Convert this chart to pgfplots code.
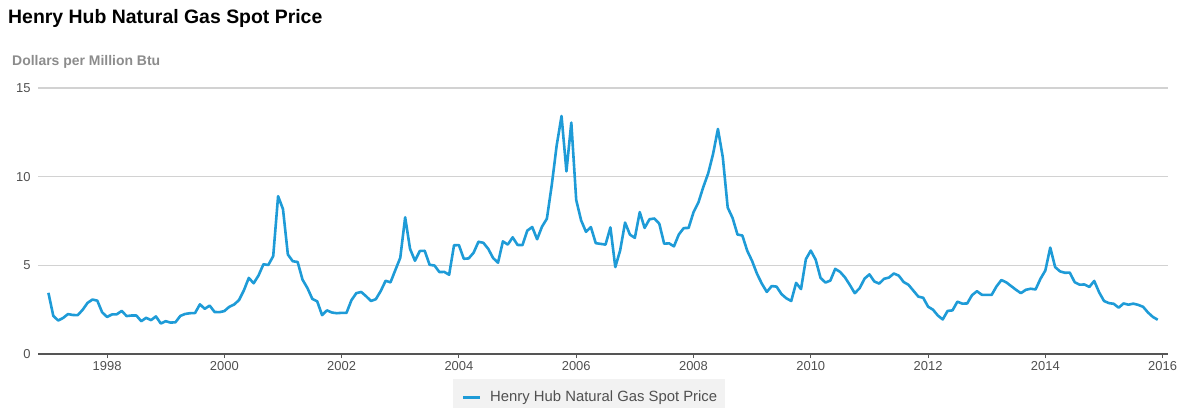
\documentclass[border=0pt]{standalone}
\usepackage{pgfplots}
\pgfplotsset{compat=1.18}
\usepackage{fontspec}
\setmainfont{Liberation Sans}

\definecolor{gasblue}{RGB}{30,155,215}
\definecolor{gridgray}{RGB}{210,210,210}
\definecolor{axisgray}{RGB}{85,85,85}
\definecolor{labelgray}{RGB}{80,80,80}
\definecolor{unitgray}{RGB}{140,140,140}
\definecolor{legendfill}{RGB}{242,242,242}

\begin{document}
\begin{tikzpicture}[x=1bp,y=1bp]
\useasboundingbox (0,0) rectangle (1181,407);
\node[anchor=base west, inner sep=0pt, font=\fontsize{19.5}{22}\selectfont\bfseries, text=black]
  at (8,384) {Henry Hub Natural Gas Spot Price};
\node[anchor=base west, inner sep=0pt, font=\fontsize{14}{16}\selectfont\bfseries, text=unitgray]
  at (12,342) {Dollars per Million Btu};
\begin{axis}[
  at={(38bp,53bp)}, anchor=south west,
  scale only axis, width=1130bp, height=266bp,
  xmin=-2.13, xmax=229.1, ymin=0, ymax=15,
  axis x line*=bottom, axis y line*=left,
  x axis line style={axisgray, line width=2bp},
  y axis line style={draw=none},
  xtick={12,36,...,228},
  xticklabels={1998,2000,2002,2004,2006,2008,2010,2012,2014,2016},
  ytick={0,5,10,15},
  tick align=outside, major tick length=4bp,
  xtick style={axisgray, line width=1bp},
  ytick style={draw=none},
  ymajorgrids, grid style={gridgray, line width=1.3bp},
  /pgf/number format/assume math mode=true,
  ticklabel style={font=\fontsize{13}{15}\selectfont, text=labelgray},
  yticklabel style={anchor=east},
  legend style={at={(axis description cs:0.3673,-0.094)}, anchor=north west,
    fill=legendfill, draw=none, text=labelgray,
    font=\fontsize{14.9}{17}\selectfont, inner xsep=6bp, inner ysep=10bp},
  legend cell align=left,
  legend image code/.code={%
    \path[draw=none] (0bp,0bp) -- (29bp,0bp);
    \draw[#1] (4bp,0bp) -- (21bp,0bp);},
]
\addplot[gasblue, line width=2.6bp, line join=round] coordinates {
  % 1997
  (0,3.45) (1,2.15) (2,1.89) (3,2.03) (4,2.25) (5,2.20) (6,2.19) (7,2.49) (8,2.88) (9,3.07) (10,3.01) (11,2.35)
  % 1998
  (12,2.09) (13,2.23) (14,2.24) (15,2.43) (16,2.14) (17,2.17) (18,2.17) (19,1.85) (20,2.04) (21,1.91) (22,2.12) (23,1.72)
  % 1999
  (24,1.85) (25,1.77) (26,1.79) (27,2.15) (28,2.26) (29,2.30) (30,2.31) (31,2.80) (32,2.55) (33,2.73) (34,2.37) (35,2.36)
  % 2000
  (36,2.42) (37,2.66) (38,2.79) (39,3.04) (40,3.59) (41,4.29) (42,3.99) (43,4.43) (44,5.06) (45,5.02) (46,5.52) (47,8.90)
  % 2001
  (48,8.17) (49,5.61) (50,5.23) (51,5.19) (52,4.19) (53,3.72) (54,3.11) (55,2.97) (56,2.19) (57,2.46) (58,2.34) (59,2.30)
  % 2002
  (60,2.32) (61,2.32) (62,3.03) (63,3.43) (64,3.50) (65,3.26) (66,2.99) (67,3.09) (68,3.55) (69,4.13) (70,4.04) (71,4.74)
  % 2003
  (72,5.43) (73,7.71) (74,5.93) (75,5.26) (76,5.81) (77,5.82) (78,5.03) (79,4.99) (80,4.62) (81,4.63) (82,4.47) (83,6.13)
  % 2004
  (84,6.14) (85,5.37) (86,5.39) (87,5.71) (88,6.33) (89,6.27) (90,5.93) (91,5.41) (92,5.15) (93,6.35) (94,6.17) (95,6.58)
  % 2005
  (96,6.15) (97,6.14) (98,6.96) (99,7.16) (100,6.47) (101,7.18) (102,7.63) (103,9.53) (104,11.75) (105,13.42) (106,10.30) (107,13.05)
  % 2006
  (108,8.69) (109,7.54) (110,6.89) (111,7.16) (112,6.25) (113,6.21) (114,6.17) (115,7.14) (116,4.90) (117,5.85) (118,7.41) (119,6.73)
  % 2007
  (120,6.55) (121,8.00) (122,7.11) (123,7.60) (124,7.64) (125,7.35) (126,6.22) (127,6.24) (128,6.07) (129,6.74) (130,7.10) (131,7.11)
  % 2008
  (132,7.99) (133,8.54) (134,9.41) (135,10.18) (136,11.27) (137,12.69) (138,11.09) (139,8.26) (140,7.67) (141,6.74) (142,6.68) (143,5.82)
  % 2009
  (144,5.24) (145,4.52) (146,3.96) (147,3.50) (148,3.83) (149,3.80) (150,3.38) (151,3.14) (152,2.99) (153,4.01) (154,3.66) (155,5.35)
  % 2010
  (156,5.83) (157,5.32) (158,4.29) (159,4.03) (160,4.14) (161,4.80) (162,4.63) (163,4.32) (164,3.89) (165,3.43) (166,3.71) (167,4.25)
  % 2011
  (168,4.49) (169,4.09) (170,3.97) (171,4.24) (172,4.31) (173,4.54) (174,4.42) (175,4.06) (176,3.90) (177,3.57) (178,3.24) (179,3.17)
  % 2012
  (180,2.67) (181,2.50) (182,2.17) (183,1.95) (184,2.43) (185,2.46) (186,2.95) (187,2.84) (188,2.85) (189,3.32) (190,3.54) (191,3.34)
  % 2013
  (192,3.33) (193,3.33) (194,3.81) (195,4.17) (196,4.04) (197,3.83) (198,3.62) (199,3.43) (200,3.62) (201,3.68) (202,3.64) (203,4.24)
  % 2014
  (204,4.71) (205,6.00) (206,4.90) (207,4.66) (208,4.58) (209,4.59) (210,4.05) (211,3.91) (212,3.92) (213,3.78) (214,4.12) (215,3.48)
  % 2015
  (216,2.99) (217,2.87) (218,2.83) (219,2.61) (220,2.85) (221,2.78) (222,2.84) (223,2.77) (224,2.66) (225,2.34) (226,2.09) (227,1.93)
};
\addlegendentry{Henry Hub Natural Gas Spot Price}
\end{axis}
\end{tikzpicture}
\end{document}
